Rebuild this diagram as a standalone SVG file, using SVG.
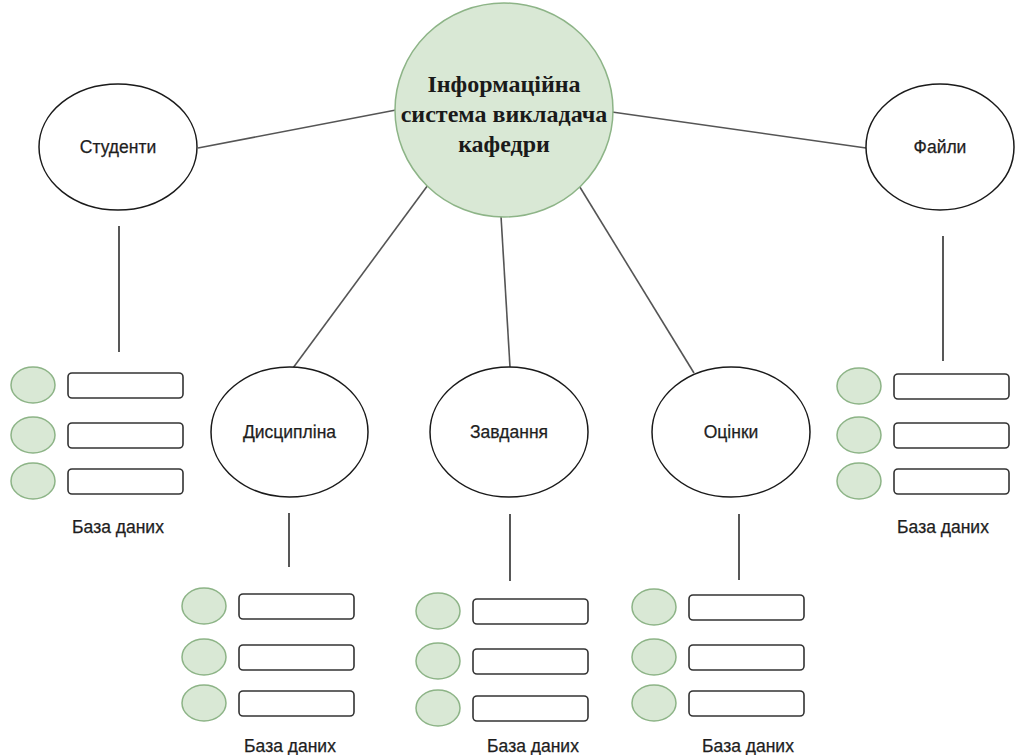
<svg xmlns="http://www.w3.org/2000/svg" width="1017" height="755" viewBox="0 0 1017 755">
<style>
.bg{fill:#ffffff}
.node{fill:#ffffff;stroke:#1a1a1a;stroke-width:1.5}
.main{fill:#d9e8d5;stroke:#8db487;stroke-width:1.5}
.dot{fill:#d9e8d5;stroke:#8db487;stroke-width:1.5}
.rec{fill:#ffffff;stroke:#333333;stroke-width:1.6}
.lbl{font-family:"Liberation Sans",Arial,sans-serif;font-size:17.5px;fill:#1e1e1e;stroke:#1e1e1e;stroke-width:0.25;text-anchor:middle;dominant-baseline:central}
.title{font-family:"Liberation Serif","Times New Roman",serif;font-weight:bold;font-size:24px;fill:#1a1a1a;text-anchor:middle;dominant-baseline:central}
.conn line{stroke:#555555;stroke-width:1.6}
.vert line{stroke:#111111;stroke-width:1.4}
</style>
<defs>
<g id="db">
<ellipse class="dot" cx="0" cy="0" rx="22" ry="18"/>
<rect class="rec" x="35" y="-12" width="115" height="25" rx="4"/>
</g>
</defs>
<rect class="bg" x="0" y="0" width="1017" height="755"/>
<g id="connectors" class="conn">
<line x1="198" y1="148" x2="396" y2="110"/>
<line x1="612" y1="112" x2="866" y2="148"/>
<line x1="428" y1="185" x2="293" y2="368"/>
<line x1="501" y1="216" x2="510" y2="367"/>
<line x1="578" y1="184" x2="694" y2="373"/>
</g>
<g id="stems" class="vert">
<line x1="119" y1="226" x2="119" y2="352"/>
<line x1="943" y1="236" x2="943" y2="361"/>
<line x1="289" y1="513" x2="289" y2="567"/>
<line x1="510" y1="514" x2="510" y2="581"/>
<line x1="739" y1="514" x2="739" y2="580"/>
</g>
<g id="main-node">
<ellipse class="main" cx="504" cy="110" rx="109" ry="107"/>
<text class="title" x="504" y="84">Інформаційна</text>
<text class="title" x="504" y="114">система викладача</text>
<text class="title" x="504" y="144">кафедри</text>
</g>
<g id="node-students">
<ellipse class="node" cx="118" cy="147" rx="79" ry="63"/>
<text class="lbl" x="118" y="147">Студенти</text>
</g>
<g id="node-files">
<ellipse class="node" cx="940" cy="147" rx="74" ry="63"/>
<text class="lbl" x="940" y="147">Файли</text>
</g>
<g id="node-discipline">
<ellipse class="node" cx="289.5" cy="432" rx="78.5" ry="65"/>
<text class="lbl" x="289.5" y="432">Дисципліна</text>
</g>
<g id="node-tasks">
<ellipse class="node" cx="509" cy="432" rx="79" ry="65"/>
<text class="lbl" x="509" y="432">Завдання</text>
</g>
<g id="node-grades">
<ellipse class="node" cx="731" cy="432" rx="79" ry="65"/>
<text class="lbl" x="731" y="432">Оцінки</text>
</g>
<g id="db-students">
<use href="#db" x="33" y="385"/>
<use href="#db" x="33" y="435"/>
<use href="#db" x="33" y="481"/>
<text class="lbl" x="118" y="527">База даних</text>
</g>
<g id="db-discipline">
<use href="#db" x="204" y="606"/>
<use href="#db" x="204" y="657"/>
<use href="#db" x="204" y="703"/>
<text class="lbl" x="290" y="746">База даних</text>
</g>
<g id="db-tasks">
<use href="#db" x="438" y="611"/>
<use href="#db" x="438" y="661"/>
<use href="#db" x="438" y="708"/>
<text class="lbl" x="533" y="746">База даних</text>
</g>
<g id="db-grades">
<use href="#db" x="654" y="607"/>
<use href="#db" x="654" y="657"/>
<use href="#db" x="654" y="703"/>
<text class="lbl" x="748" y="746">База даних</text>
</g>
<g id="db-files">
<use href="#db" x="859" y="386"/>
<use href="#db" x="859" y="435"/>
<use href="#db" x="859" y="481"/>
<text class="lbl" x="943" y="527">База даних</text>
</g>
</svg>
